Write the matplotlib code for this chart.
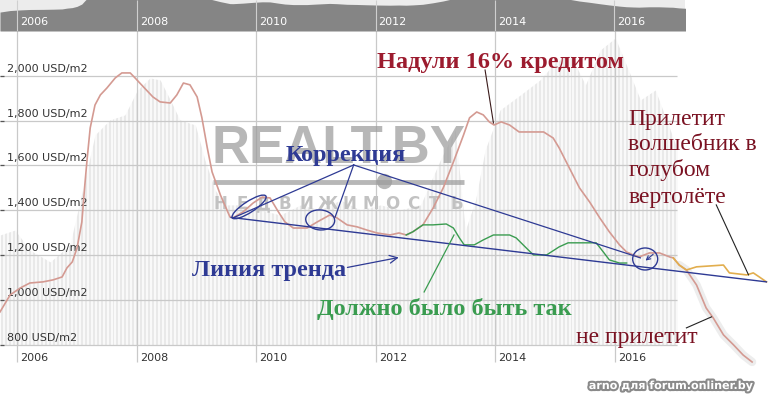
import matplotlib
matplotlib.use("Agg")
import matplotlib.pyplot as plt
import matplotlib.patheffects as pe
from matplotlib.patches import Ellipse
from matplotlib.transforms import IdentityTransform
import numpy as np

# average price, USD/m2 (realt.by)
price_year = [2005.71, 2005.88, 2006.05, 2006.21, 2006.43, 2006.60, 2006.75, 2006.83, 2006.92, 2007.00,
              2007.08, 2007.13, 2007.17, 2007.22, 2007.30, 2007.39, 2007.50, 2007.64, 2007.75, 2007.89,
              2007.97, 2008.11, 2008.27, 2008.39, 2008.56, 2008.67, 2008.78, 2008.89, 2009.01, 2009.09,
              2009.18, 2009.26, 2009.40, 2009.56, 2009.61, 2009.78, 2009.95, 2010.10, 2010.23, 2010.37,
              2010.48, 2010.62, 2010.85, 2011.02, 2011.23, 2011.35, 2011.52, 2011.69, 2011.85, 2012.02,
              2012.24, 2012.39, 2012.51, 2012.62, 2012.79, 2012.96, 2013.13, 2013.30, 2013.47, 2013.57,
              2013.69, 2013.80, 2013.90, 2013.98, 2014.10, 2014.24, 2014.40, 2014.57, 2014.81, 2014.97,
              2015.07, 2015.24, 2015.41, 2015.58, 2015.75, 2015.91, 2016.08, 2016.20, 2016.31, 2016.41,
              2016.58, 2016.75, 2016.92, 2016.98, 2017.08, 2017.20, 2017.37, 2017.53, 2017.65, 2017.82,
              2017.99, 2018.15, 2018.30]
price_usd = [947, 1023, 1054, 1076, 1081, 1090, 1103, 1143, 1170, 1232,
             1348, 1513, 1633, 1767, 1869, 1914, 1945, 1990, 2012, 2012,
             1990, 1950, 1905, 1883, 1878, 1914, 1967, 1959, 1905, 1812,
             1678, 1571, 1468, 1370, 1366, 1393, 1433, 1459, 1455, 1393,
             1348, 1321, 1321, 1348, 1379, 1366, 1335, 1326, 1312, 1299,
             1290, 1299, 1290, 1304, 1335, 1410, 1500, 1615, 1736, 1812,
             1838, 1825, 1794, 1780, 1794, 1780, 1749, 1749, 1749, 1722,
             1678, 1589, 1500, 1437, 1366, 1304, 1246, 1214, 1201, 1192,
             1210, 1210, 1192, 1188, 1156, 1134, 1067, 965, 920, 845,
             800, 755, 724]

# "helicopter" scenario (orange)
heli_year = [2016.98, 2017.08, 2017.20, 2017.37, 2017.82, 2017.92, 2018.21, 2018.32, 2018.42, 2018.54]
heli_usd = [1188, 1156, 1134, 1148, 1156, 1121, 1112, 1121, 1103, 1081]

# "should have been" (green)
green_year = [2012.51, 2012.62, 2012.79, 2012.96, 2013.18, 2013.30, 2013.40, 2013.48, 2013.65, 2013.80,
              2013.97, 2014.24, 2014.35, 2014.52, 2014.64, 2014.86, 2015.07, 2015.22, 2015.69, 2015.81,
              2015.91, 2016.08, 2016.20]
green_usd = [1290, 1304, 1335, 1335, 1339, 1321, 1277, 1246, 1246, 1268,
             1290, 1290, 1277, 1232, 1201, 1201, 1237, 1255, 1255, 1214,
             1179, 1165, 1165]

# trend line
trend_year = [2009.58, 2018.54]
trend_usd = [1368, 1081]

# background volume profile (light grey bars)
vol_year = [2005.71, 2005.96, 2006.21, 2006.55, 2006.88, 2007.13, 2007.30, 2007.55, 2007.80, 2008.01,
            2008.22, 2008.39, 2008.56, 2008.72, 2008.98, 2009.14, 2009.31, 2009.48, 2009.73, 2010.07,
            2010.40, 2010.74, 2011.07, 2011.41, 2011.74, 2012.08, 2012.41, 2012.75, 2013.08, 2013.33,
            2013.50, 2013.67, 2013.83, 2014.08, 2014.42, 2014.75, 2015.01, 2015.26, 2015.51, 2015.76,
            2016.01, 2016.23, 2016.43, 2016.68, 2016.93, 2017.05]
vol_usd = [1290, 1312, 1223, 1170, 1246, 1535, 1736, 1803, 1825, 1936,
           1990, 1981, 1892, 1803, 1780, 1624, 1491, 1424, 1424, 1402,
           1379, 1424, 1402, 1446, 1402, 1424, 1402, 1424, 1624, 1758,
           1312, 1446, 1669, 1847, 1914, 1981, 2061, 2092, 1959, 2115,
           2168, 2025, 1892, 1936, 1758, 1669]

y_ticks = [800, 1000, 1200, 1400, 1600, 1800, 2000]
year_ticks = [2006, 2008, 2010, 2012, 2014, 2016]

X0, X1 = 2005.71, 2018.70
PLOT_RIGHT = 2017.05
YPX = 22.44 / 100  # px per USD
XPX = 59.7         # px per year

BLUE = "#2e3a94"
MAROON = "#7a1222"
RED_TXT = "#9c1b2e"
GREEN = "#3a9c50"
SERIF = ["Liberation Serif", "DejaVu Serif"]

fig = plt.figure(figsize=(7.76, 4.08), dpi=100)
fig.patch.set_facecolor("white")
ax = fig.add_axes([0, 0, 1, 1])
ax.set_xlim(X0, X1)
ax.set_ylim(519, 2337)
ax.axis("off")

# volume bars in the background
ax.fill_between(vol_year, 800, vol_usd, color="#e9e9e9", lw=0, zorder=0)
ax.vlines(np.arange(X0, PLOT_RIGHT, 1 / 15), 800, 2337, color="white", lw=1.1, zorder=0.3)

# grid
ax.hlines(y_ticks, X0, PLOT_RIGHT, color="#c9c9c9", lw=0.9, zorder=1)
ax.hlines(y_ticks, X0, X0 + 4 / XPX, color="#555555", lw=0.9, zorder=1)
ax.vlines(year_ticks, 724, 2199, color="#c9c9c9", lw=0.9, zorder=1)

for v in y_ticks:
    ax.text(X0 + 7 / XPX, v + 2 / YPX, f"{v:,} USD/m2", fontsize=8, color="#333333",
            va="bottom", ha="left", zorder=2)
for yr in year_ticks:
    ax.text(yr + 3 / XPX, 742, str(yr), fontsize=8, color="#333333", va="center", ha="left")

# watermark
WM = "#9c9c9c"
ax.text(2011.37, 1672, "REALT.BY", fontsize=38, fontweight="bold", color=WM, alpha=0.72,
        family=["Liberation Sans", "DejaVu Sans"],
        ha="center", va="center", zorder=1.2)
ax.plot([2009.28, 2013.47], [1526, 1526], color=WM, alpha=0.72, lw=3.5, zorder=1.2,
        solid_capstyle="butt")
ax.plot([2012.13], [1531], "o", ms=11, color=WM, alpha=0.72, mec="none", zorder=1.2)
for xl, ch in zip(np.linspace(2009.4, 2013.35, 12), "НЕДВИЖИМОСТЬ"):
    ax.text(xl, 1428, ch, fontsize=12, fontweight="bold", color="#c2c2c2",
            ha="center", va="center", zorder=1.2)

# light grey blur behind the collapse
ax.plot(price_year[84:], price_usd[84:], color="#ededed", lw=6, solid_capstyle="round", zorder=1.5)

# series
ax.plot(price_year, price_usd, color="#d49a92", lw=1.2, zorder=3)
ax.plot(heli_year, heli_usd, color="#e2ae4e", lw=1.2, zorder=3.2)
ax.plot(green_year, green_usd, color=GREEN, lw=1.0, zorder=3.1)
ax.plot(trend_year, trend_usd, color=BLUE, lw=1.0, zorder=4)

# "Коррекция" pointers
ax.plot([2011.63, 2009.61], [1602, 1366], color=BLUE, lw=0.9, zorder=4)
ax.plot([2011.63, 2011.32], [1602, 1370], color=BLUE, lw=0.9, zorder=4)
ax.plot([2011.63, 2016.43], [1602, 1188], color=BLUE, lw=0.9, zorder=4)


def ring(x, y, w, h, angle=0.0):
    cx, cy = ax.transData.transform((x, y))
    ax.add_patch(Ellipse((cx, cy), w, h, angle=angle, fill=False, ec=BLUE, lw=1.0,
                         transform=IdentityTransform(), zorder=4))


ring(2009.88, 1415, 40, 11, 33)
ring(2011.07, 1357, 29, 20, -5)
ring(2016.51, 1183, 25, 22)
ax.annotate("", xy=(2016.48, 1168), xytext=(2016.68, 1212),
            arrowprops=dict(arrowstyle="->", color=BLUE, lw=0.8, mutation_scale=7), zorder=4)

# texts and pointers
ax.text(2012.02, 2034, "Надули 16% кредитом", fontsize=17.5, fontweight="bold", color=RED_TXT,
        family=SERIF, ha="left", va="baseline", zorder=5)
ax.plot([2013.83, 2013.97], [2025, 1789], color="#3a1a1a", lw=0.8, zorder=4)

ax.text(2010.49, 1620, "Коррекция", fontsize=17.3, fontweight="bold", color=BLUE,
        family=SERIF, ha="left", va="baseline", zorder=5)

ax.text(2008.93, 1107, "Линия тренда", fontsize=17.5, fontweight="bold", color=BLUE,
        family=SERIF, ha="left", va="baseline", zorder=5)
ax.annotate("", xy=(2012.43, 1192), xytext=(2011.48, 1143),
            arrowprops=dict(arrowstyle="->", color=BLUE, lw=0.9, mutation_scale=14), zorder=4)

ax.text(2011.02, 934, "Должно было быть так", fontsize=17.5, fontweight="bold", color=GREEN,
        family=SERIF, ha="left", va="baseline", zorder=5)
ax.plot([2012.81, 2013.31], [1036, 1290], color=GREEN, lw=0.9, zorder=4)

heli_lines = ["Прилетит", "волшебник в", "голубом", "вертолёте"]
heli_base = [1780, 1669, 1553, 1433]
for line, yb in zip(heli_lines, heli_base):
    ax.text(2016.23, yb, line, fontsize=17, color=MAROON, family=SERIF,
            ha="left", va="baseline", zorder=5)
ax.plot([2017.70, 2018.24], [1424, 1112], color="#222222", lw=0.8, zorder=4)

ax.text(2015.36, 809, "не прилетит", fontsize=17, color=MAROON, family=SERIF,
        ha="left", va="baseline", zorder=5)
ax.plot([2017.20, 2017.62], [876, 925], color="#222222", lw=0.8, zorder=4)

ax.text(2018.31, 617, "arno для forum.onliner.by", fontsize=8, fontweight="bold", color="white",
        ha="right", va="center", zorder=6,
        path_effects=[pe.withStroke(linewidth=3, foreground="#8a8a8a")])

# navigator strip on top
sax = fig.add_axes([0, 1 - 31 / 408, 685 / 776, 31 / 408])
sax.set_xlim(X0, X0 + 685 / XPX)
sax.set_ylim(0, 1550)
sax.set_facecolor("#ececec")
sax.fill_between(price_year, 0, price_usd, color="#858585", lw=0)
sax.vlines(year_ticks, 0, 1550, color="#cfcfcf", lw=0.8)
for yr in year_ticks:
    sax.text(yr + 3 / XPX, 450, str(yr), fontsize=8, color="white", va="center", ha="left")
sax.set_xticks([])
sax.set_yticks([])
for s in sax.spines.values():
    s.set_visible(False)

fig.savefig("out.png", dpi=100, facecolor="white")
